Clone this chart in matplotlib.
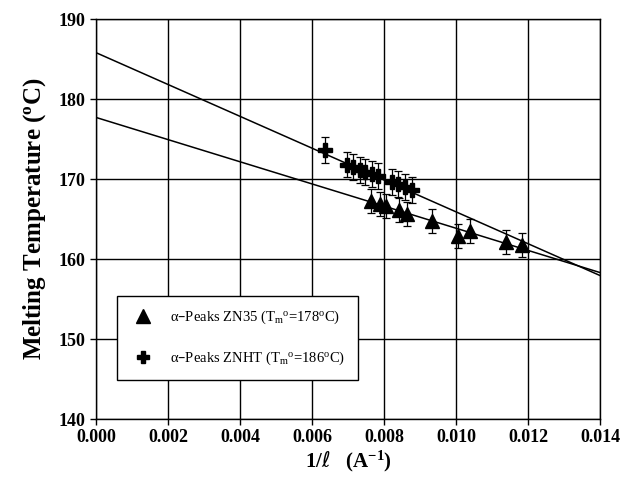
import numpy as np
import matplotlib
matplotlib.use("Agg")
import matplotlib.pyplot as plt
from matplotlib.lines import Line2D

plt.rcParams['font.family'] = ['Liberation Serif', 'DejaVu Serif']
plt.rcParams['mathtext.default'] = 'regular'

# alpha-peaks ZN35 (triangles)
zn35_x = [0.00764, 0.00790, 0.00805, 0.00842, 0.00864, 0.00933, 0.01006, 0.01039, 0.01139, 0.01183]
zn35_y = [167.2, 166.9, 166.6, 166.1, 165.6, 164.7, 162.9, 163.5, 162.1, 161.8]
zn35_err = [1.5, 1.5, 1.5, 1.5, 1.5, 1.5, 1.5, 1.5, 1.5, 1.5]

# alpha-peaks ZNHT (crosses)
znht_x = [0.00636, 0.00697, 0.00714, 0.00733, 0.00747, 0.00767, 0.00783, 0.00822, 0.00839, 0.00858, 0.00878]
znht_y = [173.6, 171.8, 171.5, 171.1, 170.9, 170.6, 170.4, 169.6, 169.4, 169.0, 168.6]
znht_err = [1.6, 1.6, 1.6, 1.6, 1.6, 1.6, 1.6, 1.6, 1.6, 1.6, 1.6]

# linear extrapolations  Tm = Tm0 + slope * (1/l)
zn35_fit = (177.7, -1385.0)
znht_fit = (185.8, -1990.0)

labels = [r'α–Peaks ZN35 (T$_m$$^o$=178$^o$C)', r'α–Peaks ZNHT (T$_m$$^o$=186$^o$C)']

fig = plt.figure(figsize=(6.23, 4.78), dpi=100)
ax = fig.add_axes([0.154, 0.1234, 0.809, 0.8368])

xl = np.array([0.0, 0.014])
ax.plot(xl, zn35_fit[0] + zn35_fit[1] * xl, color='black', lw=1.1, zorder=3)
ax.plot(xl, znht_fit[0] + znht_fit[1] * xl, color='black', lw=1.1, zorder=3)

ax.errorbar(zn35_x, zn35_y, yerr=zn35_err, fmt='^', color='black', ms=10,
            capsize=3, elinewidth=0.9, capthick=0.9, zorder=4)
ax.errorbar(znht_x, znht_y, yerr=znht_err, fmt='P', color='black', ms=10,
            capsize=3, elinewidth=0.9, capthick=0.9, zorder=4)

ax.set_xlim(0, 0.014)
ax.set_ylim(140, 190)
ax.set_xticks(np.arange(0, 0.0141, 0.002))
ax.set_yticks(np.arange(140, 191, 10))
ax.set_xticklabels(['%.3f' % v for v in np.arange(0, 0.0141, 0.002)])
ax.grid(True, color='black', lw=1.0)
ax.set_axisbelow(True)
for s in ax.spines.values():
    s.set_linewidth(1.0)
ax.tick_params(direction='out', length=4, width=1.0, labelsize=13)
for lab in ax.get_xticklabels() + ax.get_yticklabels():
    lab.set_fontweight('bold')

ax.set_xlabel(r'1/$\mathit{ℓ}$   (A$^{-1}$)', fontsize=15, fontweight='bold', labelpad=2)
ax.set_ylabel(r'Melting Temperature ($^o$C)', fontsize=18, fontweight='bold', labelpad=8)

handles = [Line2D([], [], ls='none', marker='^', color='black', ms=10),
           Line2D([], [], ls='none', marker='P', color='black', ms=9)]
leg = ax.legend(handles, labels, loc='upper left', bbox_to_anchor=(0.042, 0.3075), fontsize=10.5,
                frameon=True, fancybox=False, edgecolor='black', framealpha=1,
                borderpad=0.9, labelspacing=1.6, handletextpad=0.9, handlelength=1.8,
                borderaxespad=0)
leg.get_frame().set_linewidth(1.0)

plt.savefig('out.png', dpi=100)
